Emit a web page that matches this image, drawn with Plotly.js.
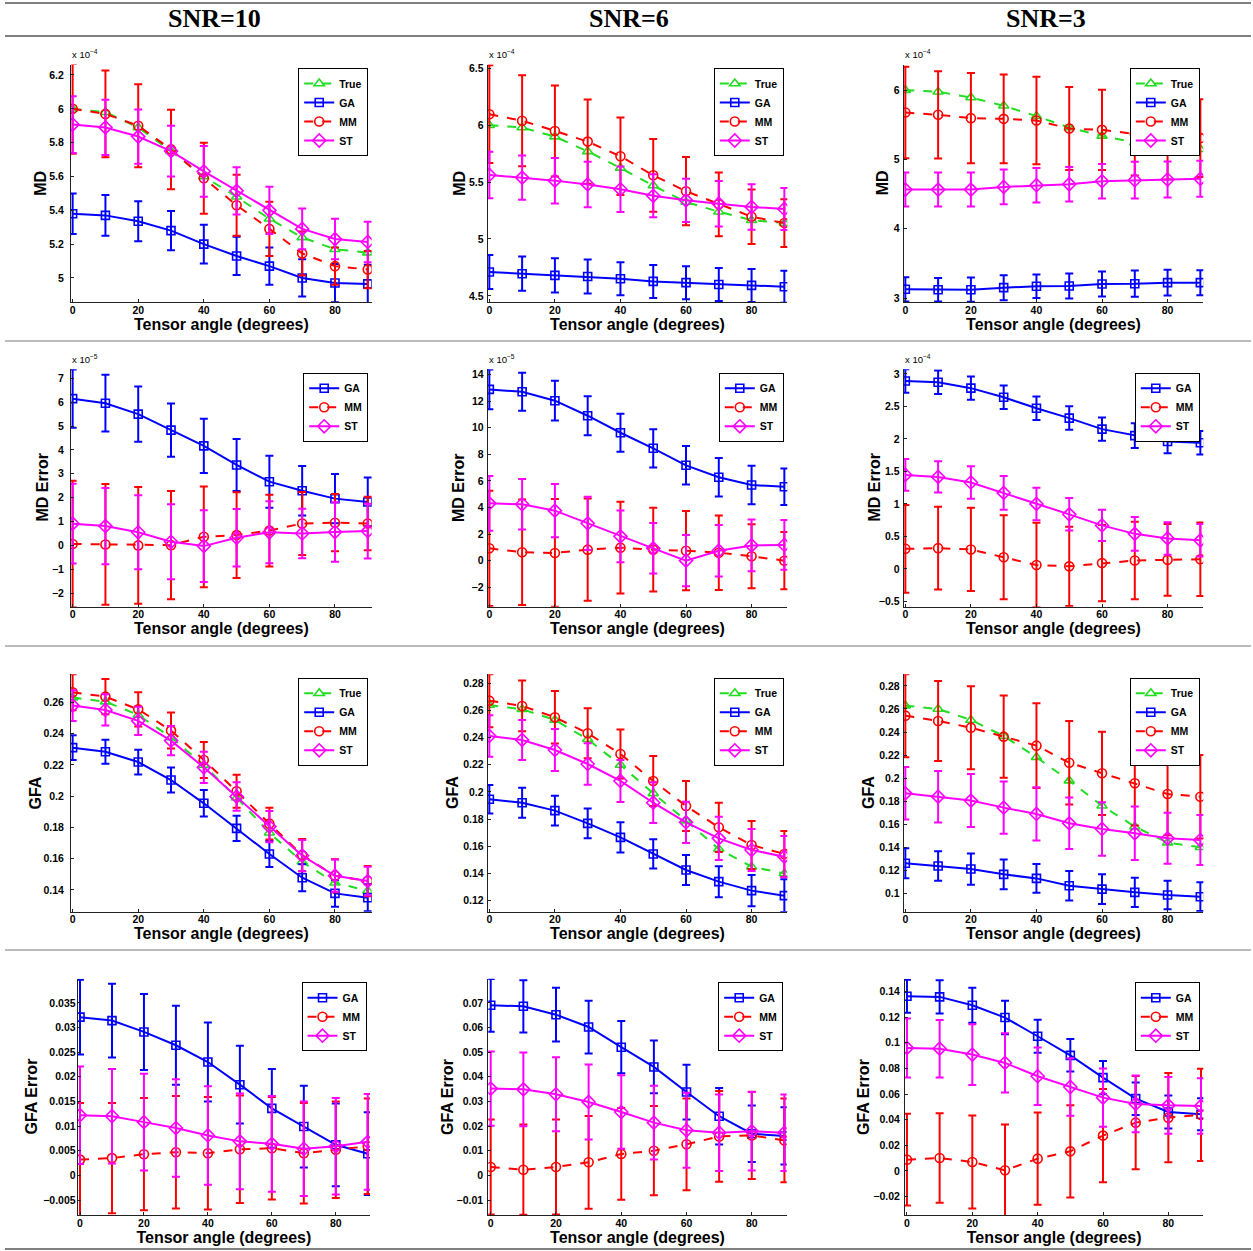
<!DOCTYPE html>
<html><head><meta charset="utf-8">
<script src="https://cdn.plot.ly/plotly-3.0.1.min.js"></script>
<style>html,body{margin:0;padding:0;background:#fff;} #chart{width:1253px;height:1251px;}</style>
</head><body><div id="chart"></div>
<script>
// ---------------- DATA ----------------
const angles = [0, 10, 20, 30, 40, 50, 60, 70, 80, 90];
const xTicks = [0, 20, 40, 60, 80];
const columnTitles = ['SNR=10', 'SNR=6', 'SNR=3'];
const xTitle = 'Tensor angle (degrees)';

// Row 1: MD (x 10^-4)
const md10_true = [6.00, 5.98, 5.89, 5.75, 5.60, 5.48, 5.35, 5.24, 5.17, 5.15];
const md10_ga = [5.38, 5.37, 5.335, 5.28, 5.20, 5.13, 5.07, 5.00, 4.97, 4.965];
const md10_ga_sd = [0.12, 0.12, 0.118, 0.116, 0.115, 0.113, 0.11, 0.11, 0.113, 0.113];
const md10_mm = [6.00, 5.97, 5.90, 5.76, 5.59, 5.43, 5.29, 5.145, 5.07, 5.05];
const md10_mm_sd = [0.265, 0.257, 0.245, 0.235, 0.21, 0.18, 0.16, 0.13, 0.11, 0.11];
const md10_st = [5.907, 5.89, 5.836, 5.75, 5.63, 5.515, 5.40, 5.29, 5.23, 5.213];
const md10_st_sd = [0.168, 0.163, 0.16, 0.15, 0.15, 0.14, 0.14, 0.12, 0.12, 0.12];

const md6_true = [6.00, 5.98, 5.90, 5.77, 5.625, 5.47, 5.325, 5.24, 5.165, 5.14];
const md6_ga = [4.71, 4.695, 4.68, 4.67, 4.65, 4.627, 4.616, 4.60, 4.592, 4.58];
const md6_ga_sd = [0.15, 0.15, 0.15, 0.15, 0.145, 0.145, 0.145, 0.145, 0.145, 0.14];
const md6_mm = [6.097, 6.04, 5.95, 5.856, 5.727, 5.56, 5.42, 5.305, 5.196, 5.14];
const md6_mm_sd = [0.43, 0.40, 0.40, 0.37, 0.34, 0.32, 0.30, 0.28, 0.24, 0.21];
const md6_st = [5.563, 5.54, 5.513, 5.48, 5.437, 5.38, 5.34, 5.31, 5.282, 5.264];
const md6_st_sd = [0.205, 0.195, 0.2, 0.2, 0.2, 0.19, 0.19, 0.2, 0.2, 0.185];

const md3_true = [6.00, 5.976, 5.894, 5.774, 5.625, 5.46, 5.34, 5.244, 5.17, 5.148];
const md3_ga = [3.126, 3.12, 3.12, 3.15, 3.17, 3.174, 3.203, 3.207, 3.222, 3.222];
const md3_ga_sd = [0.175, 0.17, 0.175, 0.18, 0.17, 0.18, 0.18, 0.19, 0.185, 0.18];
const md3_mm = [5.677, 5.644, 5.596, 5.586, 5.562, 5.446, 5.427, 5.369, 5.31, 5.307];
const md3_mm_sd = [0.66, 0.63, 0.65, 0.64, 0.63, 0.6, 0.58, 0.6, 0.6, 0.56];
const md3_st = [4.565, 4.565, 4.565, 4.604, 4.628, 4.642, 4.686, 4.70, 4.71, 4.72];
const md3_st_sd = [0.245, 0.245, 0.245, 0.25, 0.25, 0.25, 0.25, 0.265, 0.26, 0.26];

// Row 2: MD Error (x 10^-5, x 10^-5, x 10^-4)
const mde10_ga = [6.15, 5.96, 5.50, 4.83, 4.17, 3.37, 2.67, 2.29, 1.96, 1.82];
const mde10_ga_sd = [1.22, 1.19, 1.16, 1.12, 1.14, 1.09, 1.09, 1.04, 1.03, 1.02];
const mde10_mm = [0.06, 0.04, 0.0, 0.01, 0.36, 0.43, 0.62, 0.92, 0.95, 0.92];
const mde10_mm_sd = [2.65, 2.53, 2.45, 2.27, 2.11, 1.8, 1.5, 1.32, 1.2, 1.12];
const mde10_st = [0.91, 0.81, 0.55, 0.15, -0.03, 0.32, 0.55, 0.50, 0.56, 0.60];
const mde10_st_sd = [1.67, 1.6, 1.55, 1.57, 1.5, 1.2, 1.3, 1.04, 1.25, 1.15];

const mde6_ga = [12.88, 12.7, 12.03, 10.9, 9.62, 8.45, 7.17, 6.27, 5.69, 5.56];
const mde6_ga_sd = [1.5, 1.43, 1.49, 1.46, 1.42, 1.44, 1.45, 1.45, 1.45, 1.38];
const mde6_mm = [0.93, 0.63, 0.58, 0.83, 0.98, 0.83, 0.75, 0.60, 0.33, 0.0];
const mde6_mm_sd = [4.33, 3.97, 4.05, 3.85, 3.45, 3.15, 2.98, 2.8, 2.4, 2.15];
const mde6_st = [4.31, 4.24, 3.76, 2.81, 1.83, 0.93, 0.0, 0.75, 1.15, 1.18];
const mde6_st_sd = [2.05, 1.9, 2.0, 2.0, 1.95, 1.9, 1.93, 1.94, 1.95, 1.87];

const mde3_ga = [2.89, 2.87, 2.78, 2.64, 2.47, 2.32, 2.15, 2.05, 1.96, 1.94];
const mde3_ga_sd = [0.18, 0.18, 0.18, 0.18, 0.18, 0.18, 0.18, 0.19, 0.18, 0.18];
const mde3_mm = [0.31, 0.32, 0.30, 0.18, 0.06, 0.04, 0.09, 0.13, 0.14, 0.15];
const mde3_mm_sd = [0.675, 0.635, 0.64, 0.645, 0.65, 0.61, 0.585, 0.595, 0.55, 0.565];
const mde3_st = [1.446, 1.415, 1.33, 1.17, 1.0, 0.84, 0.67, 0.54, 0.47, 0.44];
const mde3_st_sd = [0.245, 0.24, 0.25, 0.26, 0.25, 0.25, 0.24, 0.26, 0.25, 0.25];

// Row 3: GFA
const gfa10_true = [0.263, 0.2604, 0.2519, 0.2376, 0.2199, 0.199, 0.1766, 0.158, 0.1446, 0.1395];
const gfa10_ga = [0.231, 0.2284, 0.2218, 0.2103, 0.1954, 0.1794, 0.163, 0.1478, 0.1378, 0.135];
const gfa10_ga_sd = [0.0079, 0.0077, 0.0079, 0.008, 0.0085, 0.0081, 0.0083, 0.0086, 0.0086, 0.0086];
const gfa10_mm = [0.2664, 0.2636, 0.2555, 0.2419, 0.2231, 0.2031, 0.1824, 0.1623, 0.1491, 0.1457];
const gfa10_mm_sd = [0.0115, 0.0113, 0.011, 0.0115, 0.0115, 0.0106, 0.0102, 0.0103, 0.0105, 0.0097];
const gfa10_st = [0.2579, 0.2551, 0.2481, 0.2355, 0.2184, 0.1997, 0.1805, 0.1619, 0.1491, 0.1457];
const gfa10_st_sd = [0.0098, 0.01, 0.009, 0.0094, 0.01, 0.0091, 0.01, 0.01, 0.0103, 0.0092];

const gfa6_true = [0.264, 0.2609, 0.253, 0.2388, 0.2199, 0.199, 0.1789, 0.158, 0.145, 0.140];
const gfa6_ga = [0.1946, 0.1921, 0.1863, 0.1769, 0.1666, 0.1544, 0.1426, 0.134, 0.1274, 0.1237];
const gfa6_ga_sd = [0.0105, 0.0111, 0.011, 0.011, 0.0111, 0.0108, 0.011, 0.0114, 0.0115, 0.012];
const gfa6_mm = [0.2672, 0.2633, 0.255, 0.2432, 0.228, 0.2081, 0.1897, 0.174, 0.161, 0.1544];
const gfa6_mm_sd = [0.0195, 0.0187, 0.0194, 0.0184, 0.018, 0.0184, 0.0184, 0.0181, 0.0177, 0.0169];
const gfa6_st = [0.2412, 0.2383, 0.2309, 0.2206, 0.2081, 0.1921, 0.1777, 0.1659, 0.1573, 0.1524];
const gfa6_st_sd = [0.0153, 0.0147, 0.0155, 0.0152, 0.0155, 0.015, 0.0152, 0.0159, 0.0155, 0.0152];

const gfa3_true = [0.2629, 0.26, 0.2505, 0.2366, 0.2181, 0.1978, 0.1761, 0.1579, 0.144, 0.140];
const gfa3_ga = [0.1261, 0.1237, 0.1211, 0.1165, 0.113, 0.1066, 0.1037, 0.1009, 0.0986, 0.0971];
const gfa3_ga_sd = [0.013, 0.0128, 0.0136, 0.013, 0.0125, 0.0128, 0.013, 0.0127, 0.0124, 0.0125];
const gfa3_mm = [0.2542, 0.2496, 0.2438, 0.236, 0.2282, 0.2134, 0.2042, 0.1955, 0.1862, 0.1839];
const gfa3_mm_sd = [0.036, 0.0347, 0.036, 0.0356, 0.0367, 0.0362, 0.0361, 0.0367, 0.0358, 0.0362];
const gfa3_st = [0.1868, 0.1839, 0.1805, 0.1744, 0.1689, 0.1608, 0.1559, 0.1521, 0.1478, 0.1463];
const gfa3_st_sd = [0.0228, 0.0223, 0.023, 0.0226, 0.0231, 0.0223, 0.0232, 0.0232, 0.0222, 0.0217];

// Row 4: GFA Error
const gfae10_ga = [0.0321, 0.0314, 0.0291, 0.0264, 0.023, 0.0184, 0.0136, 0.0099, 0.0062, 0.0044];
const gfae10_ga_sd = [0.0076, 0.0075, 0.0077, 0.008, 0.008, 0.0079, 0.008, 0.0083, 0.0084, 0.0084];
const gfae10_mm = [0.0032, 0.0035, 0.0043, 0.0047, 0.0045, 0.0053, 0.0055, 0.0045, 0.0052, 0.0059];
const gfae10_mm_sd = [0.0115, 0.0112, 0.0114, 0.0114, 0.0114, 0.0109, 0.0104, 0.0102, 0.0098, 0.0097];
const gfae10_st = [0.0122, 0.012, 0.0108, 0.0096, 0.0081, 0.0069, 0.0064, 0.0054, 0.0059, 0.0068];
const gfae10_st_sd = [0.0099, 0.0096, 0.0098, 0.0099, 0.01, 0.0097, 0.0097, 0.0096, 0.0098, 0.0097];

const gfae6_ga = [0.069, 0.0686, 0.0652, 0.0602, 0.052, 0.044, 0.0338, 0.024, 0.0169, 0.016];
const gfae6_ga_sd = [0.0107, 0.0106, 0.0109, 0.0107, 0.0106, 0.0107, 0.0111, 0.0115, 0.0115, 0.0116];
const gfae6_mm = [0.0034, 0.0023, 0.0034, 0.0053, 0.0087, 0.01, 0.0126, 0.0158, 0.0162, 0.0142];
const gfae6_mm_sd = [0.0193, 0.0183, 0.0193, 0.0188, 0.0186, 0.0181, 0.0186, 0.0184, 0.0177, 0.017];
const gfae6_st = [0.0352, 0.0349, 0.0329, 0.0298, 0.0257, 0.0214, 0.0183, 0.0173, 0.0179, 0.0173];
const gfae6_st_sd = [0.0151, 0.015, 0.015, 0.0152, 0.0149, 0.015, 0.0152, 0.0155, 0.0159, 0.0155];

const gfae3_ga = [0.1363, 0.1358, 0.1293, 0.1197, 0.1051, 0.0902, 0.0728, 0.0564, 0.046, 0.0442];
const gfae3_ga_sd = [0.0128, 0.0129, 0.0136, 0.0131, 0.0129, 0.0127, 0.013, 0.0127, 0.0128, 0.0125];
const gfae3_mm = [0.0088, 0.0101, 0.007, 0.0005, 0.0096, 0.0153, 0.0276, 0.0377, 0.0416, 0.0437];
const gfae3_mm_sd = [0.0358, 0.035, 0.0362, 0.0357, 0.036, 0.036, 0.0364, 0.0364, 0.0349, 0.036];
const gfae3_st = [0.096, 0.0954, 0.0908, 0.0843, 0.0739, 0.0655, 0.0572, 0.0523, 0.0512, 0.0507];
const gfae3_st_sd = [0.023, 0.0224, 0.0237, 0.0231, 0.0225, 0.0224, 0.0227, 0.0222, 0.0221, 0.0216];

// ---------------- PANEL SETUP ----------------
const panels = [
  {ytitle: 'MD', exp: '−4', yrange: [4.858, 6.262], dtick: 0.2,
   series: [['True', md10_true, null], ['GA', md10_ga, md10_ga_sd], ['MM', md10_mm, md10_mm_sd], ['ST', md10_st, md10_st_sd]]},
  {ytitle: 'MD', exp: '−4', yrange: [4.446, 6.534], dtick: 0.5,
   series: [['True', md6_true, null], ['GA', md6_ga, md6_ga_sd], ['MM', md6_mm, md6_mm_sd], ['ST', md6_st, md6_st_sd]]},
  {ytitle: 'MD', exp: '−4', yrange: [2.943, 6.37], dtick: 1,
   series: [['True', md3_true, null], ['GA', md3_ga, md3_ga_sd], ['MM', md3_mm, md3_mm_sd], ['ST', md3_st, md3_st_sd]]},
  {ytitle: 'MD Error', exp: '−5', yrange: [-2.57, 7.38], dtick: 1,
   series: [['GA', mde10_ga, mde10_ga_sd], ['MM', mde10_mm, mde10_mm_sd], ['ST', mde10_st, mde10_st_sd]]},
  {ytitle: 'MD Error', exp: '−5', yrange: [-3.46, 14.39], dtick: 2,
   series: [['GA', mde6_ga, mde6_ga_sd], ['MM', mde6_mm, mde6_mm_sd], ['ST', mde6_st, mde6_st_sd]]},
  {ytitle: 'MD Error', exp: '−4', yrange: [-0.58, 3.07], dtick: 0.5,
   series: [['GA', mde3_ga, mde3_ga_sd], ['MM', mde3_mm, mde3_mm_sd], ['ST', mde3_st, mde3_st_sd]]},
  {ytitle: 'GFA', exp: null, yrange: [0.1261, 0.2779], dtick: 0.02,
   series: [['True', gfa10_true, null], ['GA', gfa10_ga, gfa10_ga_sd], ['MM', gfa10_mm, gfa10_mm_sd], ['ST', gfa10_st, gfa10_st_sd]]},
  {ytitle: 'GFA', exp: null, yrange: [0.1119, 0.2866], dtick: 0.02,
   series: [['True', gfa6_true, null], ['GA', gfa6_ga, gfa6_ga_sd], ['MM', gfa6_mm, gfa6_mm_sd], ['ST', gfa6_st, gfa6_st_sd]]},
  {ytitle: 'GFA', exp: null, yrange: [0.0841, 0.2901], dtick: 0.02,
   series: [['True', gfa3_true, null], ['GA', gfa3_ga, gfa3_ga_sd], ['MM', gfa3_mm, gfa3_mm_sd], ['ST', gfa3_st, gfa3_st_sd]]},
  {ytitle: 'GFA Error', exp: null, yrange: [-0.0081, 0.0399], dtick: 0.005,
   series: [['GA', gfae10_ga, gfae10_ga_sd], ['MM', gfae10_mm, gfae10_mm_sd], ['ST', gfae10_st, gfae10_st_sd]]},
  {ytitle: 'GFA Error', exp: null, yrange: [-0.0162, 0.0798], dtick: 0.01,
   series: [['GA', gfae6_ga, gfae6_ga_sd], ['MM', gfae6_mm, gfae6_mm_sd], ['ST', gfae6_st, gfae6_st_sd]]},
  {ytitle: 'GFA Error', exp: null, yrange: [-0.0346, 0.150], dtick: 0.02,
   series: [['GA', gfae3_ga, gfae3_ga_sd], ['MM', gfae3_mm, gfae3_mm_sd], ['ST', gfae3_st, gfae3_st_sd]]}
];

// ---------------- LAYOUT / STYLE ----------------
const W = 1253, H = 1251;
// plot boxes in pixels: [left, top, right, bottom]
const boxes = [
  [71, 64.5, 371.7, 302], [487.7, 64.5, 787.3, 302], [903.7, 64.5, 1203.3, 302],
  [71, 369.3, 371.7, 606.7], [487.7, 369.3, 787.3, 606.7], [903.7, 369.3, 1203.3, 606.7],
  [71, 674.3, 371.7, 911.7], [487.7, 674.3, 787.3, 911.7], [903.7, 674.3, 1203.3, 911.7],
  [77.7, 978.7, 370, 1215.3], [488.3, 978.7, 786.7, 1215.3], [905, 978.7, 1203.3, 1215.3]
];
const xRanges = [
  [-0.5, 91.2], [-0.5, 90.9], [-0.5, 90.9],
  [-0.5, 91.2], [-0.5, 90.9], [-0.5, 90.9],
  [-0.5, 91.2], [-0.5, 90.9], [-0.5, 90.9],
  [-0.72, 90.7], [-0.74, 90.7], [-0.6, 90.7]
];
// distance tweak of y tick labels from the axis
const yLabelStandoff = [4, 1, 1, 4, 1, 1, 4, 1, 1, -1, 2, 2];
// horizontal centre (px) of each y-axis title
const yTitleX = [40.5, 459.5, 882, 42.5, 459, 874.5, 34.5, 452, 868, 30.5, 447, 863];

const styles = {
  'True': {color: '#22dd22', dash: 'dash', symbol: 'triangle-up-open', size: 9},
  'GA': {color: '#0000ff', dash: 'solid', symbol: 'square-open', size: 8},
  'MM': {color: '#ff0000', dash: 'dash', symbol: 'circle-open', size: 9},
  'ST': {color: '#ff00ff', dash: 'solid', symbol: 'diamond-open', size: 10}
};
const FONT = 'Liberation Sans, Arial, sans-serif';
const axisColor = '#222';

const traces = [];
const layout = {
  width: W, height: H,
  margin: {l: 0, r: 0, t: 0, b: 0},
  paper_bgcolor: '#fff', plot_bgcolor: '#fff',
  font: {family: FONT, color: '#000'},
  showlegend: true,
  annotations: [], shapes: []
};

panels.forEach((p, i) => {
  const s = i === 0 ? '' : String(i + 1);
  const b = boxes[i];
  const legId = 'legend' + s;
  p.series.forEach(([name, vals, sd]) => {
    const st = styles[name];
    const tr = {
      type: 'scatter', mode: 'lines+markers', name: name,
      x: angles, y: vals,
      xaxis: 'x' + s, yaxis: 'y' + s, legend: legId,
      line: {color: st.color, width: 2, dash: st.dash},
      marker: {symbol: st.symbol, size: st.size, color: st.color, line: {color: st.color, width: 1.6}}
    };
    if (sd) tr.error_y = {type: 'data', array: sd, visible: true, color: st.color, thickness: 2, width: 4};
    traces.push(tr);
  });
  layout['xaxis' + s] = {
    domain: [b[0] / W, b[2] / W], range: xRanges[i], anchor: 'y' + s,
    tickvals: xTicks, ticks: 'inside', ticklen: 3, tickcolor: axisColor,
    showline: true, linecolor: axisColor, linewidth: 1, mirror: false,
    showgrid: false, zeroline: false, ticklabelstandoff: -2,
    tickfont: {family: FONT, size: 10.5, weight: 'bold', color: '#000'},
    title: {text: xTitle, font: {family: FONT, size: 16, weight: 'bold', color: '#000'}, standoff: 0}
  };
  layout['yaxis' + s] = {
    domain: [1 - b[3] / H, 1 - b[1] / H], range: p.yrange, anchor: 'x' + s,
    tick0: 0, dtick: p.dtick, ticks: 'inside', ticklen: 3, tickcolor: axisColor,
    showline: true, linecolor: axisColor, linewidth: 1, mirror: false,
    showgrid: false, zeroline: false, ticklabelstandoff: yLabelStandoff[i],
    tickfont: {family: FONT, size: 10.5, weight: 'bold', color: '#000'}
  };
  // y-axis title, placed where the reference puts it
  layout.annotations.push({
    xref: 'paper', yref: 'paper', x: yTitleX[i] / W, y: 1 - ((b[1] + b[3]) / 2) / H,
    xanchor: 'center', yanchor: 'middle', textangle: -90, showarrow: false,
    text: p.ytitle, font: {family: FONT, size: 16, weight: 'bold', color: '#000'}
  });
  layout[legId] = {
    x: (b[2] - 3.5) / W, xanchor: 'right', y: 1 - (b[1] + 3.5) / H, yanchor: 'top',
    bgcolor: '#fff', bordercolor: '#000', borderwidth: 1,
    font: {family: FONT, size: 10.5, weight: 'bold', color: '#000'},
    itemwidth: 30, tracegroupgap: 0, traceorder: 'normal'
  };
  if (p.exp) {
    layout.annotations.push({
      xref: 'paper', yref: 'paper', x: (b[0] - 1) / W, y: 1 - (b[1] - 2) / H,
      xanchor: 'left', yanchor: 'bottom', showarrow: false,
      text: 'x 10<sup>' + p.exp + '</sup>',
      font: {family: FONT, size: 9.5, color: '#000'}
    });
  }
});

// column headers
const headerX = [214, 629, 1046];
columnTitles.forEach((t, k) => {
  layout.annotations.push({
    xref: 'paper', yref: 'paper', x: headerX[k] / W, y: 1 - 19 / H,
    xanchor: 'center', yanchor: 'middle', showarrow: false, text: t,
    font: {family: 'Liberation Serif, Times New Roman, serif', size: 26, weight: 'bold', color: '#000'}
  });
});

// table rules
const rules = [[3, '#000'], [36, '#000'], [341, '#777'], [646, '#777'], [950, '#777'], [1249, '#000']];
rules.forEach(([py, c]) => {
  layout.shapes.push({
    type: 'line', xref: 'paper', yref: 'paper',
    x0: 5 / W, x1: 1251 / W, y0: 1 - py / H, y1: 1 - py / H,
    line: {color: c, width: 1}
  });
});

Plotly.newPlot('chart', traces, layout, {staticPlot: true, displayModeBar: false});
</script>
</body></html>
